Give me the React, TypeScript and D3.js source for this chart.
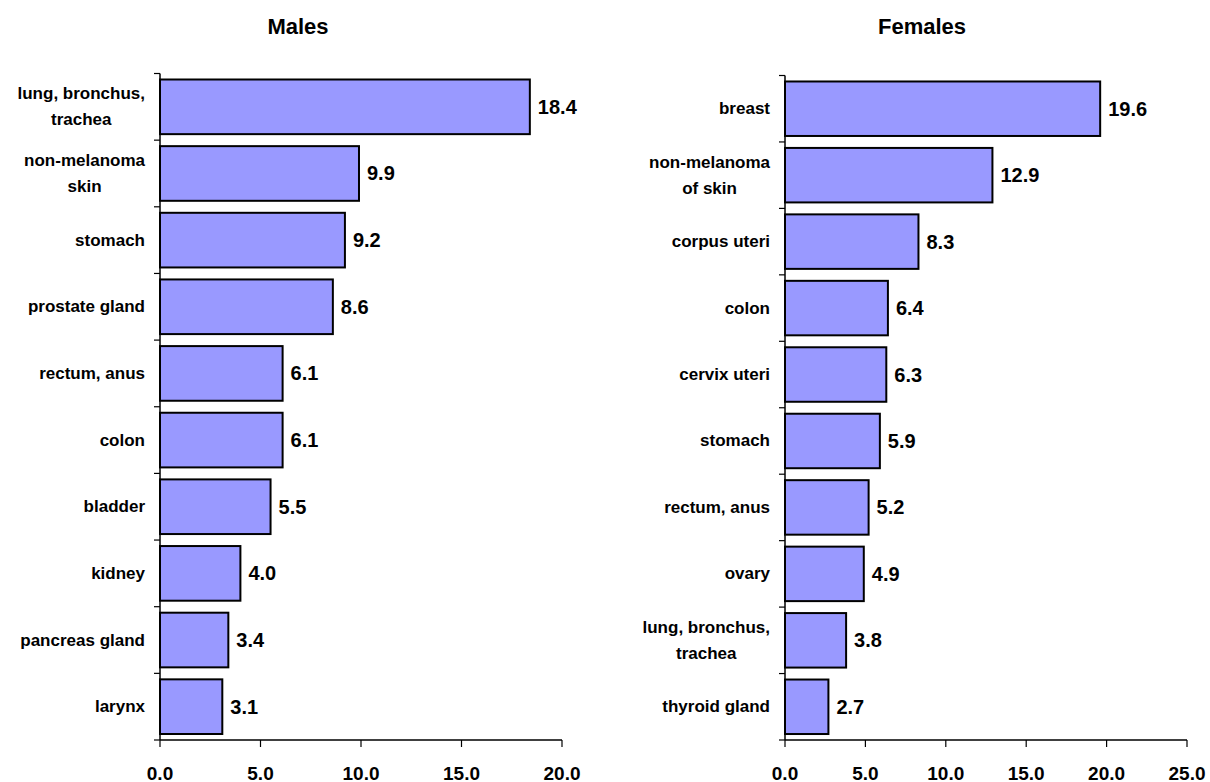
import * as d3 from 'd3';
import { FC } from 'react';

const maleCategories = [
  'lung, bronchus,\ntrachea',
  'non-melanoma\nskin',
  'stomach',
  'prostate gland',
  'rectum, anus',
  'colon',
  'bladder',
  'kidney',
  'pancreas gland',
  'larynx',
];
const maleValues = [18.4, 9.9, 9.2, 8.6, 6.1, 6.1, 5.5, 4.0, 3.4, 3.1];
const maleTicks = [0, 5, 10, 15, 20];

const femaleCategories = [
  'breast',
  'non-melanoma\nof skin',
  'corpus uteri',
  'colon',
  'cervix uteri',
  'stomach',
  'rectum, anus',
  'ovary',
  'lung, bronchus,\ntrachea',
  'thyroid gland',
];
const femaleValues = [19.6, 12.9, 8.3, 6.4, 6.3, 5.9, 5.2, 4.9, 3.8, 2.7];
const femaleTicks = [0, 5, 10, 15, 20, 25];

const FONT = "'Liberation Sans', Arial, sans-serif";
const CAT_SIZE = 17;

let ctx: CanvasRenderingContext2D | null = null;
const measure = (text: string) => {
  if (!ctx) ctx = document.createElement('canvas').getContext('2d');
  if (!ctx) return text.length * CAT_SIZE * 0.55;
  ctx.font = `bold ${CAT_SIZE}px ${FONT}`;
  return ctx.measureText(text).width;
};

type PanelProps = {
  title: string;
  titleX: number;
  categories: string[];
  values: number[];
  ticks: number[];
  x0: number;
  x1: number;
  top: number;
  bottom: number;
  labelRight: number;
};

const Panel: FC<PanelProps> = ({ title, titleX, categories, values, ticks, x0, x1, top, bottom, labelRight }) => {
  const xScale = d3
    .scaleLinear()
    .domain([0, ticks[ticks.length - 1]])
    .range([x0, x1]);

  const yScale = d3
    .scaleBand()
    .domain(categories)
    .range([top, bottom])
    .paddingInner(0.18)
    .paddingOuter(0.09);

  const step = yScale.step();
  const boundaries = d3.range(categories.length + 1).map((i) => top + i * step);

  return (
    <g>
      <text x={titleX} y={34} textAnchor="middle" fontWeight="bold" fontSize={22} fontFamily={FONT}>
        {title}
      </text>

      {categories.map((c, i) => {
        const y = yScale(c)!;
        const h = yScale.bandwidth();
        return (
          <g key={c}>
            <rect
              x={xScale(0)}
              y={y}
              width={xScale(values[i]) - xScale(0)}
              height={h}
              fill="#9999ff"
              stroke="#000"
              strokeWidth={2}
            />
            <text
              x={xScale(values[i]) + 8}
              y={y + h / 2}
              dominantBaseline="central"
              fontWeight="bold"
              fontSize={20}
              fontFamily={FONT}
            >
              {values[i].toFixed(1)}
            </text>
          </g>
        );
      })}

      {categories.map((c) => {
        const lines = c.split('\n');
        const cy = yScale(c)! + yScale.bandwidth() / 2;
        const lineH = 26;
        if (lines.length === 1) {
          return (
            <text
              key={'l' + c}
              x={labelRight}
              y={cy}
              textAnchor="end"
              dominantBaseline="central"
              fontWeight="bold"
              fontSize={CAT_SIZE}
              fontFamily={FONT}
            >
              {c}
            </text>
          );
        }
        const widest = Math.max(...lines.map(measure));
        const cx = labelRight - widest / 2;
        return (
          <text key={'l' + c} fontWeight="bold" fontSize={CAT_SIZE} fontFamily={FONT} textAnchor="middle">
            {lines.map((ln, j) => (
              <tspan key={j} x={cx} y={cy + (j - (lines.length - 1) / 2) * lineH} dominantBaseline="central">
                {ln}
              </tspan>
            ))}
          </text>
        );
      })}

      {/* y axis */}
      <line x1={x0} x2={x0} y1={top} y2={bottom} stroke="#000" strokeWidth={1.5} />
      {boundaries.map((b, i) => (
        <line key={'yt' + i} x1={x0 - 6} x2={x0} y1={b} y2={b} stroke="#000" strokeWidth={1.2} />
      ))}

      {/* x axis */}
      <line x1={x0} x2={x1} y1={bottom} y2={bottom} stroke="#000" strokeWidth={1.5} />
      {ticks.map((t) => (
        <g key={'xt' + t}>
          <line x1={xScale(t)} x2={xScale(t)} y1={bottom} y2={bottom + 7} stroke="#000" strokeWidth={1.2} />
          <text
            x={xScale(t)}
            y={bottom + 33}
            textAnchor="middle"
            dominantBaseline="central"
            fontWeight="bold"
            fontSize={19}
            fontFamily={FONT}
          >
            {t.toFixed(1)}
          </text>
        </g>
      ))}
    </g>
  );
};

export default function App() {
  return (
    <svg
      width={1210}
      height={782}
      style={{ position: 'absolute', left: 0, top: 0, background: '#fff' }}
    >
      <rect width={1210} height={782} fill="#fff" />
      <Panel
        title="Males"
        titleX={298}
        categories={maleCategories}
        values={maleValues}
        ticks={maleTicks}
        x0={160}
        x1={562}
        top={73.5}
        bottom={740}
        labelRight={145}
      />
      <Panel
        title="Females"
        titleX={922}
        categories={femaleCategories}
        values={femaleValues}
        ticks={femaleTicks}
        x0={785}
        x1={1187}
        top={75.5}
        bottom={740}
        labelRight={770}
      />
    </svg>
  );
}
